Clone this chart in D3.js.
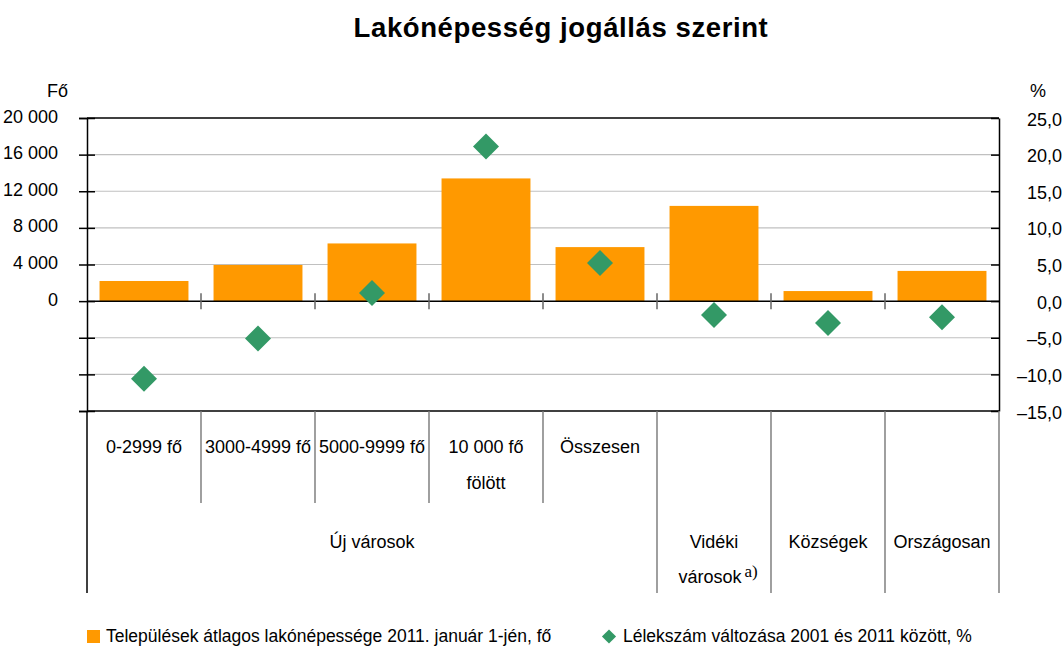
<!DOCTYPE html>
<html>
<head>
<meta charset="utf-8">
<script src="https://cdn.jsdelivr.net/npm/d3@7/dist/d3.min.js"></script>
<style>
  html, body { margin: 0; padding: 0; background: #fff; }
  svg { display: block; font-family: "Liberation Sans", Arial, sans-serif; }
</style>
</head>
<body>
<svg id="chart" width="1063" height="646"></svg>
<script>
// ---- data ----
const categories = ["0-2999 fő", "3000-4999 fő", "5000-9999 fő", "10 000 fő fölött", "Összesen", "Vidéki városok", "Községek", "Országosan"];
const subLabels = [["0-2999 fő"], ["3000-4999 fő"], ["5000-9999 fő"], ["10 000 fő", "fölött"], ["Összesen"]];
const groupLabels = [["Új városok"], ["Vidéki", "városok"], ["Községek"], ["Országosan"]];
const groupSpans = [5, 1, 1, 1];
const groupNote = ["", "a)", "", ""];
const population = [2200, 3950, 6300, 13400, 5900, 10400, 1100, 3300];
const change = [-10.6, -5.1, 1.1, 21.1, 5.2, -1.9, -3.0, -2.2];
const leftTicks = [20000, 16000, 12000, 8000, 4000, 0, -4000, -8000, -12000];
const leftTickLabels = ["20 000", "16 000", "12 000", "8 000", "4 000", "0", "", "", ""];
const rightTicks = [25, 20, 15, 10, 5, 0, -5, -10, -15];
const rightTickLabels = ["25,0", "20,0", "15,0", "10,0", "5,0", "0,0", "–5,0", "–10,0", "–15,0"];
const title = "Lakónépesség jogállás szerint";
const leftUnit = "Fő";
const rightUnit = "%";
const legendLabels = ["Települések átlagos lakónépessége 2011. január 1-jén, fő", "Lélekszám változása 2001 és 2011 között, %"];

// ---- layout ----
const X0 = 87, X1 = 999, YT = 118, YB = 411;
const ORANGE = "#ff9900", GREEN = "#339966";
const svg = d3.select("#chart");

const x = d3.scaleBand().domain(categories).range([X0, X1]).paddingInner(0.22).paddingOuter(0.11);
const yL = d3.scaleLinear().domain([-12000, 20000]).range([YB, YT]);
const yR = d3.scaleLinear().domain([-15, 25]).range([YB, YT]);
const step = x.step();

// title
svg.append("text").attr("x", 561).attr("y", 37).attr("text-anchor", "middle")
  .attr("font-size", 27.5).attr("font-weight", "bold").attr("letter-spacing", 0.6).text(title);

// gridlines
svg.append("g").selectAll("line").data(leftTicks.filter(v => v !== 20000 && v !== 0 && v !== -12000))
  .join("line").attr("x1", X0).attr("x2", X1).attr("y1", d => yL(d)).attr("y2", d => yL(d))
  .attr("stroke", "#c0c0c0").attr("stroke-width", 1.2);

// bars
svg.append("g").selectAll("rect").data(population).join("rect")
  .attr("x", (d, i) => x(categories[i])).attr("width", x.bandwidth())
  .attr("y", d => yL(Math.max(0, d))).attr("height", d => Math.abs(yL(d) - yL(0)))
  .attr("fill", ORANGE);

// frame lines: top, zero, bottom
[[yL(20000), "#000"], [yL(0), "#000"], [yL(-12000), "#000"]].forEach(([yy, c]) => {
  svg.append("line").attr("x1", X0).attr("x2", X1).attr("y1", yy).attr("y2", yy)
    .attr("stroke", c).attr("stroke-width", 1.5);
});

// boundary ticks on zero line
const bounds = d3.range(categories.length + 1).map(i => X0 + i * step);
svg.append("g").selectAll("line").data(bounds.slice(1, -1)).join("line")
  .attr("x1", d => d).attr("x2", d => d).attr("y1", yL(0) - 8).attr("y2", yL(0) + 8)
  .attr("stroke", "#666").attr("stroke-width", 1.5);

// left axis
const gL = svg.append("g").attr("transform", `translate(${X0},0)`)
  .call(d3.axisLeft(yL).tickValues(leftTicks).tickSize(8).tickPadding(21)
    .tickFormat((d, i) => leftTickLabels[i]));
gL.select(".domain").attr("stroke", "#000").attr("stroke-width", 1.5);
gL.selectAll(".tick line").attr("x1", 8).attr("x2", -8).attr("stroke", "#000").attr("stroke-width", 1.5);
gL.selectAll(".tick text").attr("font-size", 18).attr("font-family", "Liberation Sans, Arial, sans-serif")
  .attr("fill", "#000").attr("dy", null).attr("y", 4);

// right axis
const gR = svg.append("g").attr("transform", `translate(${X1},0)`)
  .call(d3.axisRight(yR).tickValues(rightTicks).tickSizeInner(-8).tickSizeOuter(0)
    .tickFormat((d, i) => rightTickLabels[i]));
gR.select(".domain").attr("stroke", "#000").attr("stroke-width", 1.5);
gR.selectAll(".tick line").attr("stroke", "#000").attr("stroke-width", 1.5);
gR.selectAll(".tick text").attr("font-size", 18).attr("font-family", "Liberation Sans, Arial, sans-serif")
  .attr("fill", "#000").attr("text-anchor", "end").attr("x", 63).attr("dy", null).attr("y", 7);

// unit labels
svg.append("text").attr("x", 68).attr("y", 97).attr("text-anchor", "end").attr("font-size", 18).text(leftUnit);
svg.append("text").attr("x", 1030).attr("y", 97).attr("font-size", 18).text(rightUnit);

// diamonds
const diamond = d3.symbol().type(d3.symbolSquare).size(338);
svg.append("g").selectAll("path").data(change).join("path")
  .attr("d", diamond)
  .attr("transform", (d, i) => `translate(${x(categories[i]) + x.bandwidth() / 2},${yR(d)}) rotate(45)`)
  .attr("fill", GREEN);

// category separators below the plot
const SUB_Y = 503, GROUP_Y = 593;
let cum = 0;
const groupBounds = [0];
groupSpans.forEach(s => { cum += s; groupBounds.push(cum); });
bounds.forEach((bx, i) => {
  const isGroup = groupBounds.includes(i);
  svg.append("line").attr("x1", bx).attr("x2", bx).attr("y1", YB).attr("y2", isGroup ? GROUP_Y : SUB_Y)
    .attr("stroke", i === 0 ? "#000" : "#777").attr("stroke-width", i === 0 ? 1.5 : 1.4);
});

// sub labels (level 1)
const gLab = svg.append("g").attr("font-size", 18).attr("fill", "#000").attr("text-anchor", "middle");
subLabels.forEach((lines, i) => {
  const cx = x(categories[i]) + x.bandwidth() / 2;
  lines.forEach((t, j) => gLab.append("text").attr("x", cx).attr("y", 453 + j * 36).text(t));
});

// group labels (level 2)
groupLabels.forEach((lines, g) => {
  const a = X0 + groupBounds[g] * step, b = X0 + groupBounds[g + 1] * step;
  const cx = (a + b) / 2;
  lines.forEach((t, j) => {
    const last = j === lines.length - 1;
    const txt = gLab.append("text").attr("x", cx + (last && groupNote[g] ? 4 : 0)).attr("y", 548 + j * 35);
    txt.append("tspan").text(t);
    if (last && groupNote[g]) {
      txt.append("tspan").attr("font-family", "Liberation Serif, Times New Roman, serif")
        .attr("font-size", 17).attr("dx", 3).attr("dy", -6).text(groupNote[g]);
    }
  });
});

// legend
svg.append("rect").attr("x", 87).attr("y", 630).attr("width", 13).attr("height", 13).attr("fill", ORANGE);
svg.append("text").attr("x", 106).attr("y", 642).attr("font-size", 17.5).text(legendLabels[0]);
svg.append("path").attr("d", d3.symbol().type(d3.symbolSquare).size(100))
  .attr("transform", "translate(609,636.5) rotate(45)").attr("fill", GREEN);
svg.append("text").attr("x", 623).attr("y", 642).attr("font-size", 17.5).text(legendLabels[1]);
</script>
</body>
</html>
